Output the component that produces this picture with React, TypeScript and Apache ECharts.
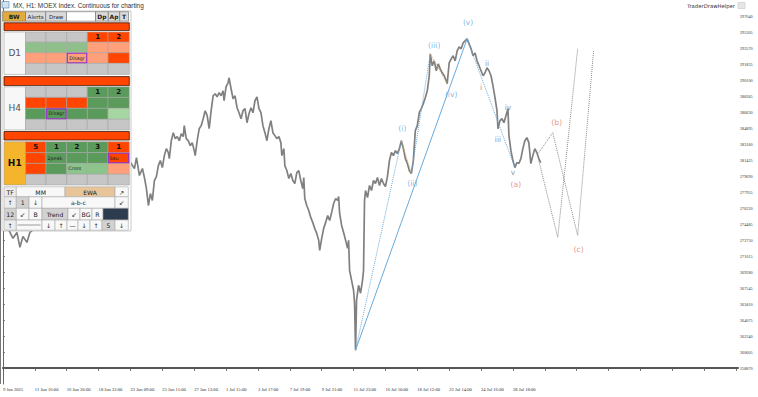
import React, { useEffect, useRef } from 'react';
import * as echarts from 'echarts';

const BASE = 258870;
const STEP = 1735;

const dateLabels = ['9 Jun 2025', '11 Jun 16:00', '16 Jun 20:00', '18 Jun 22:00', '23 Jun 09:00', '25 Jun 11:00', '27 Jun 13:00', '1 Jul 15:00', '3 Jul 17:00', '7 Jul 19:00', '9 Jul 21:00', '11 Jul 23:00', '16 Jul 10:00', '18 Jul 12:00', '22 Jul 14:00', '24 Jul 16:00', '28 Jul 18:00'];

const priceBars = [2, 6, 10, 14, 17, 20, 24, 27, 32, 40, 50, 60, 70, 80, 90, 100, 110, 120, 128, 132, 134, 137, 140, 142, 144, 146, 148, 150, 152, 154, 156, 158, 160, 162, 164, 166, 167, 169, 171, 173, 175, 177, 179, 181, 182, 184, 186, 188, 190, 192, 193, 195, 197, 199, 201, 203, 205, 207, 209, 211, 213, 215, 217, 219, 221, 222, 224, 226, 227, 229, 231, 233, 235, 237, 239, 241, 243, 245, 247, 249, 251, 253, 255, 257, 259, 261, 263, 265, 267, 269, 271, 273, 275, 277, 279, 280, 282, 283, 285, 287, 289, 291, 293, 295, 297, 299, 301, 302, 303, 305, 307, 309, 311, 313, 315, 317, 318, 320, 322, 324, 326, 328, 330, 332, 334, 336, 337, 338, 340, 342, 344, 346, 347, 348, 350, 352, 353, 354, 355, 357, 359, 361, 362, 363, 364, 366, 368, 370, 372, 374, 376, 378, 380, 382, 384, 386, 388, 390, 392, 394, 396, 398, 400, 402, 404, 406, 408, 410, 412, 414, 416, 418, 420, 422, 424, 426, 428, 429, 431, 433, 435, 437, 439, 441, 443, 445, 446, 448, 450, 452, 454, 456, 458, 460, 462, 464, 466, 468, 470, 472, 474, 476, 478, 480, 482, 484, 486, 488, 490, 492, 494, 496, 497, 499, 501, 503, 505, 507, 508, 510, 512, 514, 516, 518, 520, 522, 524, 526, 528, 530, 532, 534, 536, 538, 540];

const priceValues = [274660, 273790, 272930, 273570, 271950, 273140, 272490, 273570, 274010, 274660, 275410, 276490, 275950, 277580, 278120, 278980, 279740, 280280, 281150, 280500, 281690, 279740, 280500, 279520, 278330, 276490, 277790, 277040, 279200, 279630, 280820, 281360, 280600, 281900, 282660, 282230, 281580, 283520, 284390, 283740, 283960, 283520, 284280, 283960, 285150, 283740, 283520, 282980, 283310, 282440, 281900, 283520, 284820, 285150, 285900, 286770, 286230, 284820, 286770, 288390, 288610, 288280, 288720, 288390, 288930, 287850, 289370, 289800, 290340, 289150, 288070, 288390, 287090, 286550, 285900, 286770, 286990, 285470, 286450, 287090, 286550, 287850, 288280, 286990, 286550, 285150, 284390, 283520, 284820, 285690, 284390, 284070, 283740, 283960, 283310, 281900, 282660, 280820, 280280, 279420, 279960, 279200, 278870, 280060, 280280, 279200, 278330, 279520, 277250, 276490, 275950, 275200, 274660, 274010, 273470, 272710, 271630, 272930, 274010, 274660, 275410, 274870, 275740, 276710, 277250, 277040, 277470, 275630, 274330, 273570, 272710, 271840, 272710, 269460, 268380, 267300, 265900, 260810, 266220, 267840, 266980, 268380, 269460, 277040, 278120, 277360, 278660, 278120, 279200, 278870, 279520, 278660, 279420, 278870, 278550, 279630, 281360, 282230, 281900, 282440, 282120, 282660, 283520, 282660, 281580, 281040, 280280, 279960, 281360, 284610, 285150, 286550, 286990, 287530, 288180, 288930, 290560, 292940, 291640, 292180, 291100, 291850, 291310, 290880, 290560, 290010, 289690, 291960, 292390, 292720, 292180, 293260, 293690, 293480, 294120, 294340, 294560, 294020, 293480, 292720, 293040, 292180, 291640, 291100, 290560, 290880, 291420, 291100, 290560, 289470, 288180, 286770, 284820, 285690, 285900, 285470, 286230, 286990, 284070, 282440, 281360, 280600, 281150, 281040, 281580, 282660, 283520, 283850, 283310, 281040, 281900, 282660, 282230, 281580, 281150];

// projected correction paths (gray dotted)
const projBBars = [538, 552, 577, 593];
const projBValues = [282230, 284390, 273250, 293260];
const projCBars = [538, 557, 577];
const projCValues = [281360, 273030, 293480];

// Elliott wave construction lines (blue)
const impulseBars = [354, 466];
const impulseValues = [260810, 294560];
const waveOneBars = [354, 400];
const waveOneValues = [260810, 283520];
const waveThreeBars = [410, 429];
const waveThreeValues = [279960, 292940];
const declineBars = [466, 514];
const declineValues = [294560, 280600];
const corrOneBars = [400, 410];
const corrOneValues = [283520, 279960];
const corrTwoBars = [429, 446];
const corrTwoValues = [292940, 289690];

const waveLabelTexts = ['(i)', '(ii)', '(iii)', '(iv)', '(v)', 'i', 'ii', 'iii', 'iv', 'v', '(a)', '(b)', '(c)'];
const waveLabelBars = [401, 411, 433, 450, 467, 480, 486, 497, 507, 512, 515, 556, 578];
const waveLabelValues = [284820, 278870, 293800, 288500, 296290, 289260, 291850, 283630, 287090, 280060, 278760, 285470, 271730];
const waveLabelKinds = ['blue', 'blue', 'blue', 'blue', 'blue', 'gray', 'gray', 'gray', 'gray', 'gray', 'red', 'red', 'red'];

// panel content
const headerTexts = ['BW', 'Alerts', 'Draw', '', 'Dp', 'Ap', 'T'];
const sectionNames = ['D1', 'H4', 'H1'];
const sectionColors = [
  [['G', 'G', 'G', 'R', 'R'], ['LG', 'LG', 'LG', 'S', 'S'], ['S', 'S', 'S', 'S', 'R'], ['G', 'G', 'G', 'G', 'G']],
  [['G', 'G', 'G', 'DG', 'DG'], ['R', 'R', 'R', 'DG', 'DG'], ['DG', 'DG', 'DG', 'DG', 'PG'], ['G', 'G', 'G', 'G', 'G']],
  [['R', 'DG', 'DG', 'DG', 'R'], ['R', 'DG', 'DG', 'DG', 'R'], ['R', 'DG', 'MG', 'MG', 'S'], ['G', 'G', 'G', 'G', 'G']],
];
const sectionTexts = [
  [['', '', '', '1', '2'], ['', '', '', '', ''], ['', '', 'Disagr', '', ''], ['', '', '', '', '']],
  [['', '', '', '1', '2'], ['', '', '', '', ''], ['', 'Disagr', '', '', ''], ['', '', '', '', '']],
  [['5', '1', '2', '3', '1'], ['', '2peak', '', '', 'Sau'], ['', '', 'Cross', '', ''], ['', '', '', '', '']],
];
const toolRows = [
  ['TF', 'MM', 'EWA', '↗'],
  ['↑', '1', '↓', 'a-b-c', '↙'],
  ['12', '↙', 'B', 'Trend', '↙', 'BG', 'R', ''],
  ['↑', '', '↓', '↑', '—', '↓', '↑', '5', '↓'],
];

const PAL: Record<string, string> = {
  R: '#ff4500', S: '#ffa07a', G: '#c6c6c6', LG: '#8fbf8a', DG: '#5a9a5a', MG: '#8cc48c', PG: '#a6d6a2',
};

function rect(x0: number, y0: number, x1: number, y1: number, fill: string, stroke = '#9a9a9a', lw = 0.6, z = 50) {
  return { type: 'rect', z, silent: true, shape: { x: x0, y: y0, width: x1 - x0, height: y1 - y0 }, style: { fill, stroke, lineWidth: lw } };
}
function txt(x: number, y: number, text: string, size: number, opt: any = {}) {
  const align = opt.align || 'center';
  return {
    type: 'text', z: 52, silent: true, x, y,
    style: {
      text, fill: opt.color || '#111', fontSize: size, fontFamily: opt.family || 'DejaVu Sans', fontWeight: opt.bold ? 'bold' : 'normal',
      textAlign: align, textVerticalAlign: 'middle', align, verticalAlign: 'middle',
    },
  };
}

function buildPanel() {
  const els: any[] = [];
  // title
  els.push(rect(2, 1.5, 9, 8, '#cfe3f5', '#5a7fa8', 0.6));
  els.push(txt(13, 5.2, 'MX, H1: MOEX Index. Continuous for charting', 6.4, { align: 'left', color: '#333', family: 'Liberation Sans' }));
  els.push(txt(735, 6, 'TraderDrawHelper', 5.3, { align: 'right', color: '#333' }));
  els.push(rect(738, 2.5, 745, 8.5, '#e6e6e6', '#bdbdbd', 0.5));
  // background
  els.push(rect(2, 11, 131, 231, '#ffffff', '#a8a8a8', 0.6));
  // header buttons
  const hx = [2.7, 25.5, 45.7, 66.5, 95.5, 108.3, 119.7, 128.5];
  const hFill = ['#e2ac3c', '#dadada', '#dadada', '#ffffff', '#dadada', '#dadada', '#dadada'];
  headerTexts.forEach((t, i) => {
    els.push(rect(hx[i], 11.7, hx[i + 1], 21.2, hFill[i], '#6a6a6a', 0.6));
    if (t) {
      const bold = i === 0 || i >= 4;
      els.push(txt((hx[i] + hx[i + 1]) / 2, 16.6, t, bold ? 6 : 5.5, { bold, color: '#222' }));
    }
  });
  const cols = [25.5, 46, 66.7, 87.3, 108, 129.3];
  const redBars = [[22.8, 30.6], [76.6, 85.6], [131.5, 140]];
  const secRows = [[32, 42.2, 52.7, 63.4, 74.4], [86.8, 97.4, 108.3, 119.3, 130], [141.7, 152.7, 163.4, 174.3, 185]];
  const purple: Record<string, boolean> = { '0-2-2': true, '1-2-1': true, '2-1-4': true };
  sectionNames.forEach((name, s) => {
    els.push(rect(4, redBars[s][0], 129.3, redBars[s][1], '#ff4500', '#3a1a10', 0.8));
    const rows = secRows[s];
    const isH1 = s === 2;
    els.push(rect(4, rows[0], cols[0], rows[4], isH1 ? '#f4b42c' : '#f7f7f7', '#a0a0a0', 0.6));
    els.push(txt((4 + cols[0]) / 2, (rows[0] + rows[4]) / 2, name, 9, { bold: isH1, color: isH1 ? '#111' : '#555' }));
    for (let r = 0; r < 4; r++) {
      for (let c = 0; c < 5; c++) {
        els.push(rect(cols[c], rows[r], cols[c + 1], rows[r + 1], PAL[sectionColors[s][r][c]], '#a4a4a4', 0.6));
      }
    }
    for (let r = 0; r < 4; r++) {
      for (let c = 0; c < 5; c++) {
        const key = `${s}-${r}-${c}`;
        const t = sectionTexts[s][r][c];
        if (purple[key]) {
          els.push({ ...rect(cols[c] + 0.6, rows[r] + 0.6, cols[c + 1] - 0.6, rows[r + 1] - 0.6, 'none', '#9932cc', 1.1), z: 51 });
        }
        if (!t) continue;
        const cy = (rows[r] + rows[r + 1]) / 2;
        if (t.length <= 1) {
          els.push(txt((cols[c] + cols[c + 1]) / 2, cy, t, 7, { bold: true }));
        } else if (t === 'Disagr') {
          els.push(txt((cols[c] + cols[c + 1]) / 2, cy, t, 4.8, { color: '#222' }));
        } else {
          els.push(txt(cols[c] + 1.5, cy, t, 4.8, { align: 'left', color: '#222' }));
        }
      }
    }
  });
  // tool rows
  const rowY = [186.8, 196.8, 208.3, 220, 230.2];
  const rowX = [
    [4, 16.3, 65, 115, 128.3],
    [4, 16.3, 29, 42, 115, 128.3],
    [4, 16.3, 29, 42, 68, 80, 92, 103, 128.3],
    [4, 16.3, 42, 55, 67, 78, 90, 102, 115, 128.3],
  ];
  const grayCells: Record<string, string> = { '1-1': '#d2d2d2', '2-0': '#d2d2d2', '2-3': '#d2d2d2', '3-7': '#d2d2d2', '0-2': '#e8c598', '2-7': '#2c3b4d', '0-0': '#ececec', '1-0': '#ececec', '3-0': '#ececec' };
  toolRows.forEach((row, r) => {
    row.forEach((t, c) => {
      const x0 = rowX[r][c], x1 = rowX[r][c + 1];
      const fill = grayCells[`${r}-${c}`] || '#f8f8f8';
      els.push(rect(x0, rowY[r], x1, rowY[r + 1], fill, '#a8a8a8', 0.6));
      if (t) els.push(txt((x0 + x1) / 2, (rowY[r] + rowY[r + 1]) / 2 + 0.3, t, t.length > 2 ? 6 : 6.2, { color: '#222' }));
    });
  });
  // slider line in the blank tool cell
  els.push({ type: 'line', z: 52, silent: true, shape: { x1: 17.5, y1: 225, x2: 40.5, y2: 225 }, style: { stroke: '#777', lineWidth: 0.7 } });
  // left frame line
  els.push({ type: 'line', z: 3, silent: true, shape: { x1: 0.5, y1: 0, x2: 0.5, y2: 384 }, style: { stroke: '#777', lineWidth: 1 } });
  return els;
}

function pairs(bars: number[], values: number[]) {
  return bars.map((b, i) => [b, values[i] - BASE]);
}

export default function App() {
  const ref = useRef<HTMLDivElement>(null);
  useEffect(() => {
    if (!ref.current) return;
    const chart = echarts.init(ref.current, undefined, { renderer: 'svg' });
    const blue = '#68aadb';
    const dotted = (name: string, bars: number[], values: number[], color: string, type: any = 'dotted', width = 1) => ({
      name, type: 'line', data: pairs(bars, values), showSymbol: false, symbol: 'none', silent: true, z: 3,
      lineStyle: { color, width, type },
    });
    const labelColors: Record<string, string> = { blue: '#5fa6da', gray: '#7a7a7a', red: '#e07868' };
    chart.setOption({
      animation: false,
      backgroundColor: '#ffffff',
      grid: { left: 0, right: 20, top: -1, bottom: 13, containLabel: false },
      xAxis: {
        type: 'value', min: 0, max: 738, interval: 32,
        splitLine: { show: false },
        axisLine: { show: true, lineStyle: { color: '#555', width: 2 } },
        axisTick: { show: true, length: 3, lineStyle: { color: '#555', width: 0.8 } },
        axisLabel: {
          showMaxLabel: false, align: 'left', margin: 3, fontSize: 4.6, color: '#333', fontFamily: 'Liberation Serif',
          formatter: (v: number) => dateLabels[Math.round(v / 32)] ?? '',
        },
      },
      yAxis: {
        type: 'value', position: 'right', min: -STEP, max: 23 * STEP, interval: STEP,
        splitLine: { show: false },
        axisLine: { show: true, lineStyle: { color: '#666', width: 1 } },
        axisTick: { show: true, length: 2, lineStyle: { color: '#666', width: 0.8 } },
        axisLabel: {
          showMinLabel: false, showMaxLabel: false, margin: 2, fontSize: 4.2, color: '#333', fontFamily: 'Liberation Serif',
          formatter: (v: number) => String(Math.round(v + BASE)),
        },
      },
      series: [
        { name: 'price', type: 'line', data: pairs(priceBars, priceValues), showSymbol: false, symbol: 'none', z: 2, silent: true, lineStyle: { color: '#808080', width: 1.7 } },
        dotted('projB', projBBars, projBValues, '#8a8a8a'),
        dotted('projC', projCBars, projCValues, '#8a8a8a'),
        dotted('impulse', impulseBars, impulseValues, blue, 'solid', 1),
        dotted('waveOne', waveOneBars, waveOneValues, blue),
        dotted('waveThree', waveThreeBars, waveThreeValues, blue),
        dotted('decline', declineBars, declineValues, blue),
        dotted('corrOne', corrOneBars, corrOneValues, '#d9a866'),
        dotted('corrTwo', corrTwoBars, corrTwoValues, '#d9a866'),
        {
          name: 'labels', type: 'scatter', symbolSize: 0, z: 4, silent: true,
          data: waveLabelBars.map((b, i) => ({
            value: [b, waveLabelValues[i] - BASE],
            label: { color: labelColors[waveLabelKinds[i]] },
          })),
          label: {
            show: true, position: 'inside', fontSize: 7.6, fontFamily: 'DejaVu Sans',
            formatter: (p: any) => waveLabelTexts[p.dataIndex],
          },
        },
      ],
      graphic: { elements: buildPanel() },
    });
    return () => chart.dispose();
  }, []);
  return <div ref={ref} style={{ position: 'fixed', left: 0, top: 0, width: 758, height: 397, background: '#fff' }} />;
}
